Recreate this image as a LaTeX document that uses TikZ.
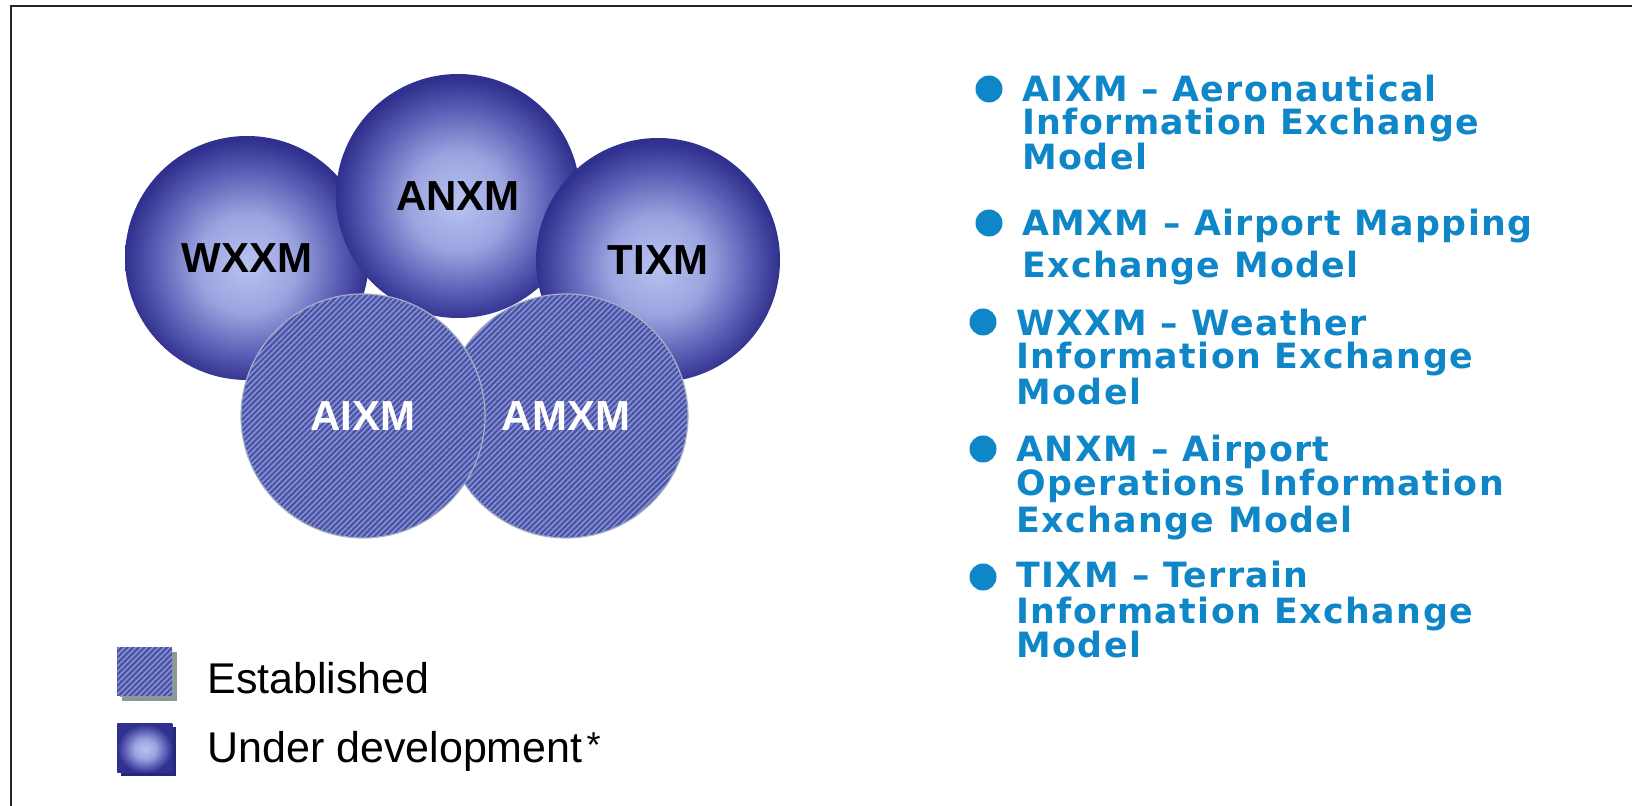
\documentclass[tikz,border=0pt]{standalone}
\usepackage{fontspec}
\newfontfamily\lsans{Liberation Sans}
\newfontfamily\dvsans{DejaVu Sans}[LetterSpace=4]
\usetikzlibrary{patterns.meta}
\definecolor{ballA}{RGB}{184,194,240}
\definecolor{ballB}{RGB}{156,164,224}
\definecolor{ballC}{RGB}{90,92,180}
\definecolor{ballD}{RGB}{48,48,142}
\definecolor{estfill}{RGB}{76,84,166}
\definecolor{eststripe}{RGB}{140,150,215}
\definecolor{estrim}{RGB}{170,186,190}
\definecolor{txtblue}{RGB}{14,134,200}
\definecolor{shadowgray}{RGB}{138,152,152}
\definecolor{navy}{RGB}{40,40,120}
\pgfdeclareradialshading{ballshade}{\pgfpoint{0bp}{-1.5bp}}{color(0bp)=(ballA); color(10bp)=(ballB); color(19bp)=(ballC); color(25bp)=(ballD); color(50bp)=(ballD)}
\begin{document}
\begin{tikzpicture}[x=0.5pt,y=-0.5pt,
  frame/.style={line width=1pt, draw=black!85},
  devball/.style={circle, minimum size=122pt, inner sep=0pt, shade, shading=ballshade,
    font=\lsans\bfseries\fontsize{21}{25}\selectfont, text=black},
  estball/.style={circle, minimum size=122pt, inner sep=0pt, fill=estfill, draw=estrim, line width=0.6pt,
    postaction={pattern={Lines[angle=45,distance=2pt,line width=0.7pt]}, pattern color=eststripe},
    font=\lsans\bfseries\fontsize{21}{25}\selectfont, text=white},
  itemtext/.style={anchor=base west, inner sep=0pt, text=txtblue, font=\dvsans\bfseries\fontsize{17.4}{20}\selectfont},
  bulletdot/.style={circle, fill=txtblue, minimum size=13.5pt, inner sep=0pt},
  legtext/.style={anchor=base west, inner sep=0pt, text=black, font=\lsans\fontsize{21.5}{25}\selectfont},
  legbox/.style={rectangle, anchor=north west, inner sep=0pt, minimum width=27.5pt, minimum height=24.5pt}
]
\useasboundingbox[fill=white] (0,0) rectangle (1632,806);
\draw[frame] (11,806) -- (11,6) -- (1632,6);

% circles
\node[devball] (wxxm) at (247,258) {WXXM};
\node[devball] (anxm) at (458,196) {ANXM};
\node[devball] (tixm) at (658,260) {TIXM};
\node[estball] (amxm) at (566,416) {AMXM};
\node[estball] (aixm) at (363,416) {AIXM};

% legend
\node[legbox, fill=shadowgray] (estshadow) at (122,652) {};
\node[legbox, fill=estfill, postaction={pattern={Lines[angle=45,distance=2pt,line width=0.7pt]}, pattern color=eststripe}] (estbox) at (117,647) {};
\node[legtext] (estlabel) at (207,693) {Established};
\node[legbox, fill=navy] (devshadow) at (121,727) {};
\node[legbox, shade, shading=ballshade] (devbox) at (117,723) {};
\node[legtext] (devlabel) at (207,762) {Under development\kern2pt\raisebox{2.5pt}{\fontsize{18}{20}\selectfont *}};

% bullet list
\node[bulletdot] (b1) at (989,89) {};
\node[itemtext] (t1a) at (1022,102) {AIXM – Aeronautical};
\node[itemtext] (t1b) at (1022,135) {Information Exchange};
\node[itemtext] (t1c) at (1022,170) {Model};

\node[bulletdot] (b2) at (989,223) {};
\node[itemtext] (t2a) at (1022,236) {AMXM – Airport Mapping};
\node[itemtext] (t2b) at (1022,278) {Exchange Model};

\node[bulletdot] (b3) at (983,322) {};
\node[itemtext] (t3a) at (1016,336) {WXXM – Weather};
\node[itemtext] (t3b) at (1016,369) {Information Exchange};
\node[itemtext] (t3c) at (1016,405) {Model};

\node[bulletdot] (b4) at (983,449) {};
\node[itemtext] (t4a) at (1016,462) {ANXM – Airport};
\node[itemtext] (t4b) at (1016,496) {Operations Information};
\node[itemtext] (t4c) at (1016,532) {Exchange Model};

\node[bulletdot] (b5) at (983,577) {};
\node[itemtext] (t5a) at (1016,588) {TIXM – Terrain};
\node[itemtext] (t5b) at (1016,623) {Information Exchange};
\node[itemtext] (t5c) at (1016,657) {Model};
\end{tikzpicture}
\end{document}
